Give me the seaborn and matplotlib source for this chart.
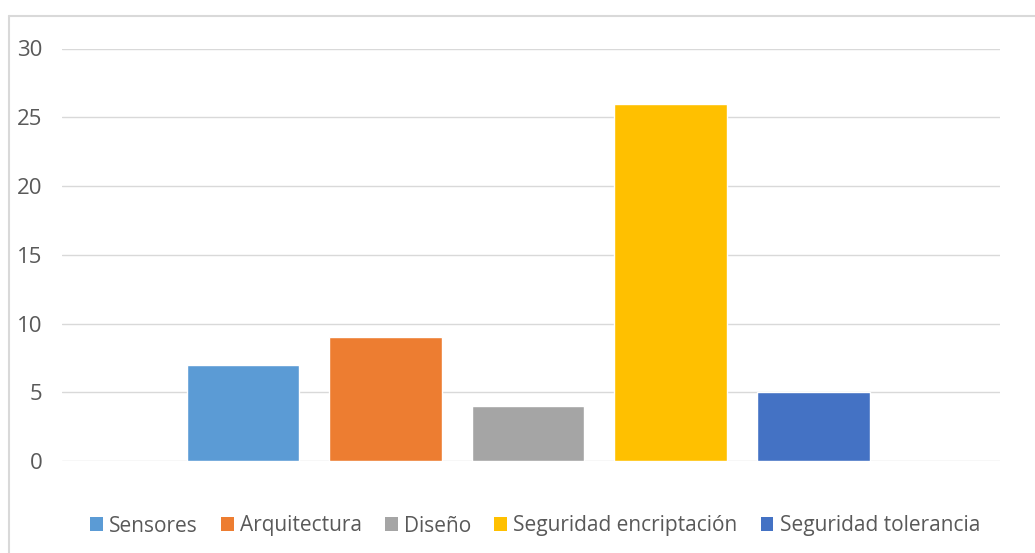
import matplotlib
matplotlib.use("Agg")
import matplotlib.pyplot as plt
from matplotlib.patches import Patch
from matplotlib.lines import Line2D
import seaborn as sns
import pandas as pd

categorias = ["Sensores", "Arquitectura", "Diseño", "Seguridad encriptación", "Seguridad tolerancia"]
valores = [7, 9, 4, 26, 5]
colores = ["#5B9BD5", "#ED7D31", "#A5A5A5", "#FFC000", "#4472C4"]
yticks = [0, 5, 10, 15, 20, 25, 30]

sns.set_theme(style="white")
plt.rcParams["font.family"] = ["Open Sans", "DejaVu Sans"]

W, H = 1035, 553
fig = plt.figure(figsize=(W / 100, H / 100), dpi=100)
ax = fig.add_axes([62 / W, (H - 461) / H, (1000 - 62) / W, (461 - 48.5) / H])

df = pd.DataFrame({"categoria": categorias, "valor": valores})
sns.barplot(data=df, x="categoria", y="valor", hue="categoria", palette=colores,
            order=categorias, hue_order=categorias, width=0.79, legend=False,
            saturation=1, ax=ax, zorder=3)

ax.set_xlim(-1.27, 5.31)
ax.set_ylim(0, 30)
ax.set_yticks(yticks)
ax.set_yticklabels([str(v) for v in yticks])
ax.set_xticks([])
ax.set_xlabel("")
ax.set_ylabel("")
ax.grid(axis="y", color="#D9D9D9", linewidth=1, zorder=0)
for s in ax.spines.values():
    s.set_visible(False)
ax.tick_params(axis="y", length=0, pad=14, labelsize=16, labelcolor="#595959")

# chart border (left and top visible)
fig.add_artist(Line2D([9 / W, 9 / W], [0, 1 - 16 / H], transform=fig.transFigure,
                      color="#D9D9D9", linewidth=1.5))
fig.add_artist(Line2D([9 / W, 1], [1 - 16 / H, 1 - 16 / H], transform=fig.transFigure,
                      color="#D9D9D9", linewidth=1.5))

handles = [Patch(facecolor=c, edgecolor="none", label=l) for c, l in zip(colores, categorias)]
fig.legend(handles=handles, loc="center", bbox_to_anchor=(535 / W, 1 - 526 / H), ncol=5,
           frameon=False, fontsize=15, labelcolor="#595959", handlelength=0.62,
           handleheight=0.62, handletextpad=0.3, columnspacing=1.1)

fig.savefig("out.png", dpi=100, facecolor="white")
